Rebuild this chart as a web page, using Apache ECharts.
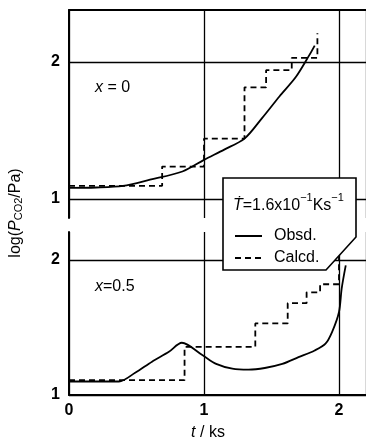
<!DOCTYPE html>
<html>
<head>
<meta charset="utf-8">
<script src="https://cdn.jsdelivr.net/npm/echarts@6/dist/echarts.min.js"></script>
<style>
html,body{margin:0;padding:0;background:#fff;}
#c{width:366px;height:444px;}
</style>
</head>
<body>
<div id="c"></div>
<script>
// ---- data (t in ks, log(P/Pa)) ----
const tObsdTop = [0, 0.2, 0.4, 0.6, 0.84, 1.0, 1.15, 1.3, 1.43, 1.56, 1.68, 1.78, 1.82];
const vObsdTop = [1.08, 1.083, 1.095, 1.14, 1.20, 1.285, 1.36, 1.44, 1.59, 1.75, 1.89, 2.05, 2.12];
const tCalcTop = [0, 0.69, 1.0, 1.30, 1.46, 1.65, 1.84];
const vCalcTop = [1.095, 1.236, 1.44, 1.815, 1.94, 2.03, 2.21];

const tObsdBot = [0, 0.37, 0.49, 0.615, 0.74, 0.836, 0.99, 1.09, 1.21, 1.33, 1.45, 1.58, 1.70, 1.82, 1.90, 1.95, 2.0, 2.02, 2.05];
const vObsdBot = [1.10, 1.10, 1.165, 1.247, 1.32, 1.387, 1.294, 1.23, 1.195, 1.188, 1.20, 1.23, 1.28, 1.33, 1.38, 1.47, 1.615, 1.79, 1.96];
const tCalcBot = [0, 0.856, 1.38, 1.62, 1.76, 1.86, 2.0];
const vCalcBot = [1.11, 1.357, 1.53, 1.68, 1.76, 1.82, 2.04];

const xTicks = [0, 1, 2];
const yTicks = [1, 2];
const panelLabels = ['0', '0.5'];
const seriesNames = ['Obsd.', 'Calcd.'];

const zip = (a, b) => a.map((v, i) => [v, b[i]]);
const FONT = 'Liberation Sans';
const intFmt = v => (Math.abs(v - Math.round(v)) < 1e-9 ? String(Math.round(v)) : '');

const chart = echarts.init(document.getElementById('c'), null, {renderer: 'canvas'});

const gridLine = {type: 'solid', color: '#000', width: 1.3};
const hLines = {
  silent: true, symbol: 'none', label: {show: false},
  lineStyle: gridLine, emphasis: {disabled: true},
  data: yTicks.map(v => ({yAxis: v}))
};
const solid = {color: '#000', width: 1.8, type: 'solid'};
const dashed = {color: '#000', width: 1.8, type: [6, 4]};

const yLabel = {
  show: true, customValues: yTicks, formatter: intFmt,
  color: '#000', fontFamily: FONT, fontWeight: 'bold', fontSize: 16, margin: 9
};

chart.setOption({
  animation: false,
  backgroundColor: '#fff',
  grid: [
    {left: 69, top: 10, width: 298, height: 208},
    {left: 69, top: 232, width: 298, height: 163}
  ],
  xAxis: [
    {gridIndex: 0, type: 'value', min: 0, max: 2.2, interval: 1, position: 'top',
     axisLine: {show: true, onZero: false, lineStyle: {color: '#000', width: 2}},
     axisTick: {show: false}, axisLabel: {show: false},
     splitLine: {show: true, lineStyle: gridLine}},
    {gridIndex: 1, type: 'value', min: 0, max: 2.2, interval: 1, position: 'bottom',
     axisLine: {show: true, onZero: false, lineStyle: {color: '#000', width: 2}},
     axisTick: {show: false},
     axisLabel: {show: true, customValues: xTicks, formatter: intFmt, color: '#000',
                 fontFamily: FONT, fontWeight: 'bold', fontSize: 16, margin: 8},
     splitLine: {show: true, lineStyle: gridLine}}
  ],
  yAxis: [
    {gridIndex: 0, type: 'value', min: 0.86, max: 2.38,
     axisLine: {show: true, onZero: false, lineStyle: {color: '#000', width: 2}},
     axisTick: {show: false}, axisLabel: yLabel, splitLine: {show: false}},
    {gridIndex: 1, type: 'value', min: 1, max: 2.207,
     axisLine: {show: true, onZero: false, lineStyle: {color: '#000', width: 2}},
     axisTick: {show: false}, axisLabel: yLabel, splitLine: {show: false}}
  ],
  legend: {
    show: true, orient: 'vertical', left: 229, top: 223, itemGap: 6,
    itemWidth: 27, itemHeight: 14, z: 120, selectedMode: false,
    itemStyle: {opacity: 0},
    data: seriesNames,
    textStyle: {color: '#000', fontFamily: FONT, fontSize: 16, padding: [0, 0, 0, 7]}
  },
  series: [
    {name: seriesNames[0], type: 'line', xAxisIndex: 0, yAxisIndex: 0,
     data: zip(tObsdTop, vObsdTop), smooth: 0.3, symbol: 'none', lineStyle: solid,
     itemStyle: {color: '#000'}, markLine: hLines},
    {name: seriesNames[1], type: 'line', xAxisIndex: 0, yAxisIndex: 0,
     data: zip(tCalcTop, vCalcTop), step: 'end', symbol: 'none', lineStyle: dashed,
     itemStyle: {color: '#000'}},
    {name: seriesNames[0], type: 'line', xAxisIndex: 1, yAxisIndex: 1,
     data: zip(tObsdBot, vObsdBot), smooth: 0.3, symbol: 'none', lineStyle: solid,
     itemStyle: {color: '#000'}, markLine: hLines},
    {name: seriesNames[1], type: 'line', xAxisIndex: 1, yAxisIndex: 1,
     data: zip(tCalcBot, vCalcBot), step: 'end', symbol: 'none', lineStyle: dashed,
     itemStyle: {color: '#000'}}
  ],
  graphic: [
    {type: 'polygon', z: 100,
     shape: {points: [[223, 178], [356, 178], [356, 237], [326, 270], [223, 270]]},
     style: {fill: '#fff', stroke: '#000', lineWidth: 1.6}},
    {type: 'text', z: 110, x: 233, y: 203,
     style: {text: '{i|Ṫ}{n|=1.6x10}{s|−1}{n|Ks}{s|−1}', fill: '#000', font: '16px ' + FONT,
             verticalAlign: 'middle',
             rich: {i: {fontStyle: 'italic', fontSize: 16, fontFamily: FONT, lineHeight: 22, verticalAlign: 'bottom'},
                    n: {fontSize: 16, fontFamily: FONT, lineHeight: 22, verticalAlign: 'bottom'},
                    s: {fontSize: 11, fontFamily: FONT, verticalAlign: 'top', lineHeight: 11}}}},
    {type: 'text', z: 110, x: 95, y: 88,
     style: {text: '{i|x} = ' + panelLabels[0], fill: '#000', font: '16px ' + FONT,
             verticalAlign: 'middle',
             rich: {i: {fontStyle: 'italic', fontSize: 16, fontFamily: FONT}}}},
    {type: 'text', z: 110, x: 95, y: 287,
     style: {text: '{i|x}=' + panelLabels[1], fill: '#000', font: '16px ' + FONT,
             verticalAlign: 'middle',
             rich: {i: {fontStyle: 'italic', fontSize: 16, fontFamily: FONT}}}},
    {type: 'text', z: 110, x: 208, y: 433,
     style: {text: '{i|t} / ks', fill: '#000', font: '16px ' + FONT,
             align: 'center', verticalAlign: 'middle',
             rich: {i: {fontStyle: 'italic', fontSize: 16, fontFamily: FONT}}}},
    {type: 'text', z: 110, x: 16, y: 213, rotation: Math.PI / 2,
     style: {text: 'log({i|P}{s|CO2}/Pa)', fill: '#000', font: '16px ' + FONT,
             align: 'center', verticalAlign: 'middle',
             rich: {i: {fontStyle: 'italic', fontSize: 16, fontFamily: FONT},
                    s: {fontSize: 11, fontFamily: FONT, verticalAlign: 'bottom', lineHeight: 11}}}}
  ]
});
</script>
</body>
</html>
